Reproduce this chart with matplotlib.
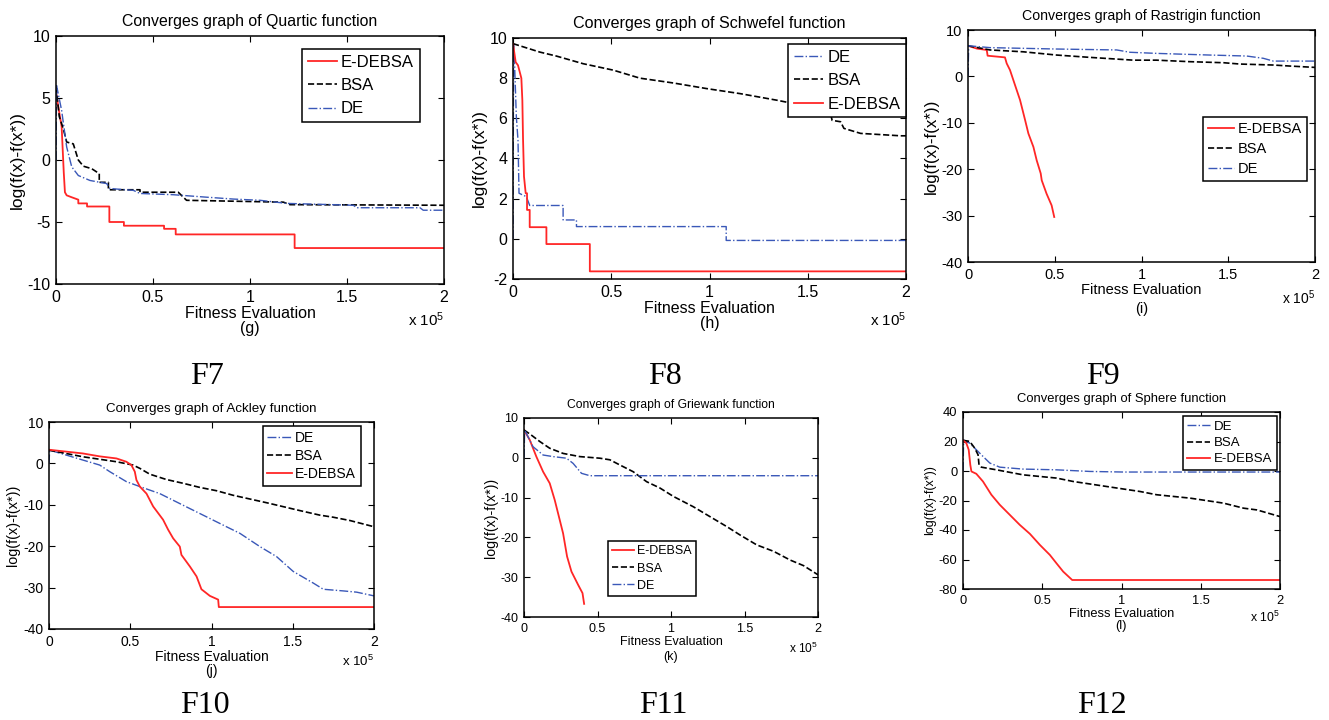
import matplotlib
matplotlib.use('Agg')
import matplotlib.pyplot as plt
from matplotlib.ticker import FuncFormatter, MultipleLocator

plt.rcParams['font.family'] = ['Liberation Sans', 'DejaVu Sans']
plt.rcParams['mathtext.fontset'] = 'custom'
plt.rcParams['mathtext.rm'] = 'Liberation Sans'
plt.rcParams['mathtext.it'] = 'Liberation Sans:italic'
plt.rcParams['axes.unicode_minus'] = False

# ---- data (x = fitness evaluations, y = log(f(x)-f(x*))) ----
# F7 Quartic
q_ed_x = [0, 1500, 2900, 4000, 4600, 5500, 8000, 11500, 11500, 16000, 16000, 27500, 27500, 35000, 35000,
          55700, 55700, 61700, 61700, 123000, 123000, 200000]
q_ed_y = [5.5, 4.0, 2.7, -1.0, -2.6, -2.85, -3.0, -3.2, -3.5, -3.5, -3.75, -3.75, -5.0, -5.0, -5.3,
          -5.3, -5.55, -5.55, -6.0, -6.0, -7.1, -7.1]
q_bsa_x = [0, 1700, 3800, 5500, 8900, 11500, 14100, 18400, 22300, 22300, 27000, 27000, 43300, 43300,
           63000, 67300, 117200, 120600, 200000]
q_bsa_y = [5.9, 3.5, 2.5, 1.45, 1.3, 0.0, -0.5, -0.7, -1.1, -1.8, -1.8, -2.4, -2.4, -2.6,
           -2.6, -3.25, -3.4, -3.6, -3.65]
q_de_x = [0, 300, 2900, 5500, 8100, 11500, 17500, 26100, 27800, 39900, 43300, 60500, 77700, 91400,
          105200, 118900, 153300, 155000, 187600, 189300, 200000]
q_de_y = [0.0, 6.0, 4.0, 1.05, -0.55, -1.25, -1.65, -1.9, -2.3, -2.45, -2.7, -2.8, -3.0, -3.15,
          -3.25, -3.5, -3.65, -3.85, -3.85, -4.05, -4.05]

# F8 Schwefel
s_de_x = [0, 300, 850, 1700, 2550, 3060, 6800, 8500, 25500, 25500, 32300, 32300, 108500, 108500, 200000]
s_de_y = [0.0, 9.7, 8.56, 6.08, 4.9, 2.27, 2.1, 1.66, 1.66, 0.94, 0.94, 0.61, 0.61, -0.08, -0.08]
s_bsa_x = [0, 13600, 22100, 35700, 51000, 64600, 81600, 98600, 115600, 134400, 149700, 161600, 162400,
           166700, 168400, 176900, 197300, 200000]
s_bsa_y = [9.72, 9.3, 9.1, 8.72, 8.4, 8.0, 7.76, 7.48, 7.23, 6.9, 6.6, 6.24, 5.9,
           5.83, 5.5, 5.25, 5.13, 5.13]
s_ed_x = [0, 1360, 2550, 4250, 4760, 5100, 5600, 6460, 7140, 7140, 8500, 8500, 17000, 17000, 39100, 39100, 200000]
s_ed_y = [9.72, 8.8, 8.64, 8.0, 6.9, 5.0, 3.1, 2.27, 2.27, 1.44, 1.44, 0.58, 0.58, -0.26, -0.26, -1.62, -1.62]

# F9 Rastrigin
r_ed_x = [0, 5000, 10800, 11300, 21300, 22300, 24200, 27100, 30000, 32900, 34800, 37700, 39600, 41900,
          42500, 45300, 48200, 49700]
r_ed_y = [6.6, 6.0, 5.7, 4.46, 4.1, 2.8, 1.37, -1.87, -5.1, -9.4, -12.3, -15.2, -18.1, -20.9,
          -22.4, -25.3, -27.8, -30.3]
r_bsa_x = [0, 12700, 31900, 51100, 70300, 95300, 108700, 128000, 147200, 156800, 176000, 185600, 200000]
r_bsa_y = [6.6, 5.7, 5.3, 4.6, 4.1, 3.5, 3.5, 3.17, 2.95, 2.66, 2.45, 2.23, 1.94]
r_de_x = [0, 400, 12700, 51100, 85700, 93400, 108700, 139500, 160600, 170200, 176000, 200000]
r_de_y = [0.0, 6.6, 6.2, 5.9, 5.7, 5.2, 4.96, 4.6, 4.39, 3.9, 3.3, 3.3]

# F10 Ackley
a_de_x = [0, 400, 10700, 20900, 31200, 37400, 47600, 55900, 68200, 82500, 96900, 109200, 117500, 129800,
          140000, 150300, 162600, 168800, 181100, 189300, 200000]
a_de_y = [0.0, 3.2, 2.0, 0.8, -0.4, -2.0, -4.4, -5.6, -7.3, -10.1, -12.9, -15.3, -16.9, -20.1,
          -22.5, -26.1, -28.9, -30.4, -30.8, -31.1, -32.0]
a_bsa_x = [0, 20900, 41500, 51700, 55900, 62000, 72300, 82500, 92800, 103100, 113300, 133900, 154400,
           166700, 174900, 185200, 200000]
a_bsa_y = [3.2, 1.6, 0.4, -0.4, -1.2, -2.6, -3.9, -4.8, -5.8, -6.6, -7.7, -9.5, -11.4,
           -12.5, -13.0, -13.8, -15.3]
a_ed_x = [0, 20900, 31200, 41500, 47600, 50700, 52800, 53800, 55900, 60000, 64100, 70200, 73300, 76400,
          80500, 81500, 86700, 90800, 93800, 99000, 104100, 104500, 200000]
a_ed_y = [3.3, 2.4, 1.7, 1.2, 0.4, -0.4, -2.0, -4.0, -5.6, -7.3, -10.4, -13.6, -16.0, -18.1,
          -20.1, -22.1, -24.9, -27.3, -30.4, -32.0, -32.9, -34.7, -34.7]

# F11 Griewank
g_ed_x = [0, 3900, 8400, 13000, 17500, 20900, 24300, 26600, 29300, 32300, 36800, 39800, 40900]
g_ed_y = [7.0, 4.5, 0.3, -3.5, -6.4, -10.6, -15.6, -19.0, -24.8, -28.6, -31.9, -34.0, -36.7]
g_bsa_x = [0, 5000, 10700, 17500, 26600, 38000, 51600, 58400, 65200, 74300, 83400, 92500, 101600, 115200,
           124300, 138000, 147000, 158400, 169800, 181100, 190200, 200000]
g_bsa_y = [7.0, 5.7, 4.1, 2.4, 1.1, 0.3, -0.1, -0.5, -1.8, -3.5, -6.0, -7.6, -9.7, -12.3,
           -14.3, -17.3, -19.4, -21.9, -23.5, -25.7, -27.1, -29.4]
g_de_x = [0, 450, 6100, 13000, 19800, 28900, 33400, 39100, 44800, 200000]
g_de_y = [0.0, 7.0, 2.8, 0.7, 0.3, -0.1, -1.4, -3.9, -4.5, -4.5]

# F12 Sphere
p_de_x = [0, 400, 4200, 8400, 12600, 16900, 23200, 37900, 59000, 80100, 101200, 200000]
p_de_y = [0.0, 21.0, 18.9, 14.4, 9.9, 5.4, 2.6, 1.3, 0.8, -0.3, -0.7, -0.7]
p_bsa_x = [0, 4200, 7400, 9500, 10100, 11600, 21100, 37900, 59000, 69500, 90600, 111700, 122200,
           143300, 164400, 177000, 185500, 200000]
p_bsa_y = [20.8, 20.1, 15.5, 11.0, 4.2, 2.6, 0.8, -2.6, -4.8, -7.1, -10.5, -13.9, -16.1,
           -18.4, -21.8, -25.2, -26.4, -30.9]
p_ed_x = [0, 2100, 3600, 4600, 5300, 8400, 12600, 17900, 23200, 29500, 35800, 42200, 48500, 54800,
          59000, 63200, 68900, 200000]
p_ed_y = [20.8, 18.9, 14.4, 4.2, -0.3, -1.9, -7.1, -16.1, -22.9, -29.7, -36.5, -42.6, -50.1, -56.9,
          -62.6, -68.2, -73.9, -73.9]

W, H = 1329, 720
STY = {'E-DEBSA': dict(color='#ff2626', ls='-', lw=1.3),
       'BSA': dict(color='black', ls='--', lw=1.2),
       'DE': dict(color='#3a58b8', ls='-.', lw=1.0)}


def rect(l, t, r, b):
    return [l / W, 1 - b / H, (r - l) / W, (b - t) / H]


# box in pixels, title, series (legend order), ylim, ystep, letter, sizes, legend loc/anchor/spacing,
# xlabel line spacing, x10 offset in px
panels = [
    (rect(56, 36, 444, 284), 'Quartic', [('E-DEBSA', q_ed_x, q_ed_y), ('BSA', q_bsa_x, q_bsa_y), ('DE', q_de_x, q_de_y)],
     (-10, 10), 5, 'g', dict(title=11.4, tick=11.5, ylab=12.5, leg=12), ('upper right', (0.938, 0.948), 0.5), 1.0, 36),
    (rect(513, 38, 906, 279), 'Schwefel', [('DE', s_de_x, s_de_y), ('BSA', s_bsa_x, s_bsa_y), ('E-DEBSA', s_ed_x, s_ed_y)],
     (-2, 10), 2, 'h', dict(title=11.6, tick=11.5, ylab=12.5, leg=12), ('upper right', (1.0, 0.975), 0.5), 1.0, 41),
    (rect(968, 30, 1315, 262), 'Rastrigin', [('E-DEBSA', r_ed_x, r_ed_y), ('BSA', r_bsa_x, r_bsa_y), ('DE', r_de_x, r_de_y)],
     (-40, 10), 10, 'i', dict(title=10.2, tick=10.5, ylab=12.2, leg=10.5), ('upper right', (0.977, 0.625), 0.42), 1.5, 36),
    (rect(49, 422, 374, 629), 'Ackley', [('DE', a_de_x, a_de_y), ('BSA', a_bsa_x, a_bsa_y), ('E-DEBSA', a_ed_x, a_ed_y)],
     (-40, 10), 10, 'j', dict(title=9.6, tick=10, ylab=10.4, leg=10), ('upper right', (0.96, 0.981), 0.3), 1.0, 32),
    (rect(524, 418, 818, 617), 'Griewank', [('E-DEBSA', g_ed_x, g_ed_y), ('BSA', g_bsa_x, g_bsa_y), ('DE', g_de_x, g_de_y)],
     (-40, 10), 10, 'k', dict(title=8.7, tick=9, ylab=10.2, leg=9), ('upper left', (0.286, 0.382), 0.42), 1.3, 31),
    (rect(963, 412, 1280, 589), 'Sphere', [('DE', p_de_x, p_de_y), ('BSA', p_bsa_x, p_bsa_y), ('E-DEBSA', p_ed_x, p_ed_y)],
     (-80, 40), 20, 'l', dict(title=9.4, tick=9.3, ylab=9, leg=9.5), ('upper right', (0.99, 0.977), 0.3), 1.0, 28),
]

fig = plt.figure(figsize=(W / 100, H / 100), dpi=100)

for box, fname, series, ylim, ystep, letter, fs, (lloc, lanchor, lspc), lsp, x10 in panels:
    ax = fig.add_axes(box)
    for name, xd, yd in series:
        ax.plot(xd, yd, label=name, **STY[name])
    ax.set_xlim(0, 200000)
    ax.set_ylim(*ylim)
    ax.xaxis.set_major_locator(MultipleLocator(50000))
    ax.xaxis.set_major_formatter(FuncFormatter(lambda v, p: '%g' % (v / 1e5)))
    ax.yaxis.set_major_locator(MultipleLocator(ystep))
    ax.tick_params(direction='in', top=True, right=True, length=4, width=0.8,
                   labelsize=fs['tick'], pad=4)
    for sp in ax.spines.values():
        sp.set_linewidth(1.1)
    ax.set_title('Converges graph of %s function' % fname, fontsize=fs['title'], pad=7)
    ax.set_ylabel('log(f(x)-f(x*))', fontsize=fs['ylab'], labelpad=2)
    ax.set_xlabel('Fitness Evaluation\n(%s)' % letter, fontsize=fs['tick'], labelpad=1, linespacing=lsp)
    ax.annotate('x 10$^5$', xy=(1, 0), xycoords='axes fraction', xytext=(0, -x10 * 0.72),
                textcoords='offset points', ha='right', va='center', fontsize=fs['tick'] * 0.95)
    leg = ax.legend(loc=lloc, bbox_to_anchor=lanchor, borderaxespad=0, fontsize=fs['leg'],
                    fancybox=False, framealpha=1, edgecolor='black', handlelength=1.75,
                    handletextpad=0.25, labelspacing=lspc, borderpad=0.35)
    leg.get_frame().set_linewidth(1.1)

# F labels under each panel
f_names = ['F7', 'F8', 'F9', 'F10', 'F11', 'F12']
f_pos = [(207, 384), (665, 384), (1103, 384), (205, 713), (663, 713), (1102, 713)]
for nm, (px, py) in zip(f_names, f_pos):
    fig.text(px / W, 1 - py / H, nm, ha='center', va='baseline', fontsize=23, family='Liberation Serif')

fig.savefig('out.png', dpi=100)
